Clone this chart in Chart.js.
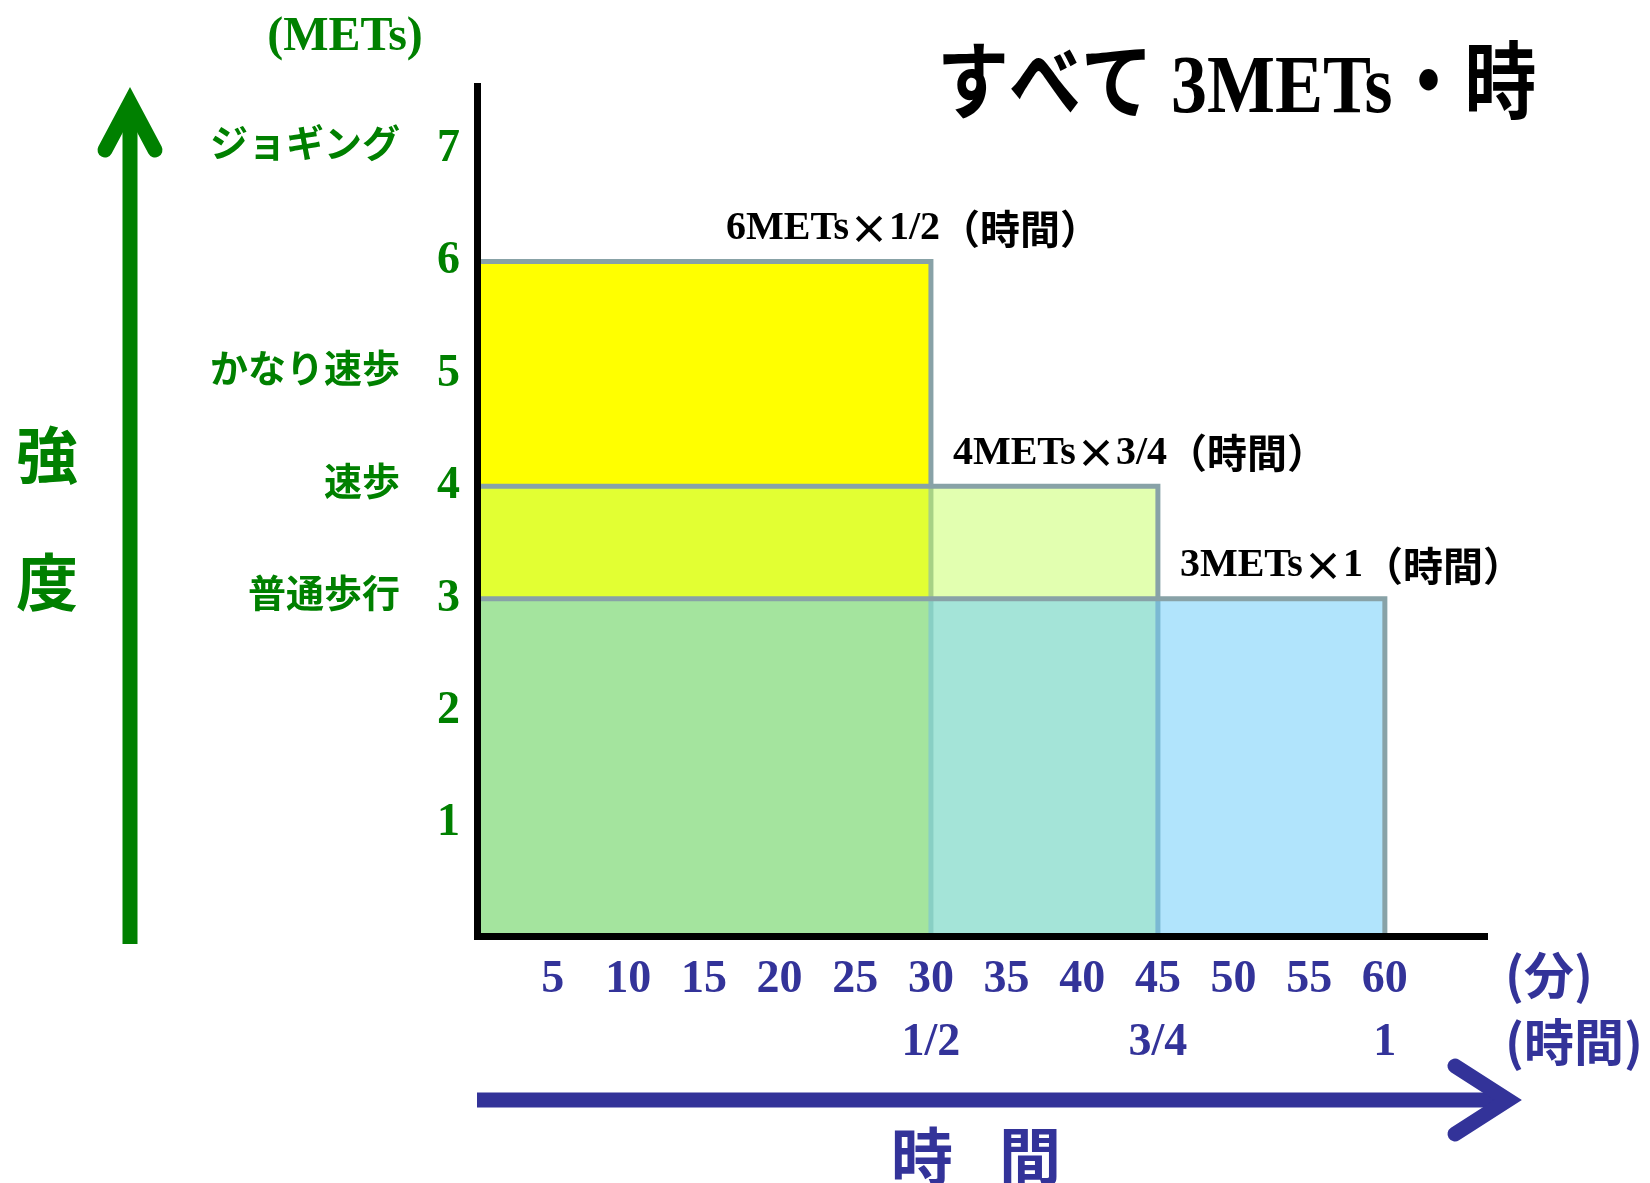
<!DOCTYPE html>
<html lang="ja">
<head>
<meta charset="utf-8">
<title>すべて 3METs・時</title>
<script src="https://cdn.jsdelivr.net/npm/chart.js@4.4.1/dist/chart.umd.min.js"></script>
<style>
  html, body { margin: 0; padding: 0; background: #fff; }
  #wrap { width: 1650px; height: 1183px; }
</style>
</head>
<body>
<div id="wrap"><canvas id="mets-chart"></canvas></div>
<script>
// three activities that all add up to 3 METs·hour (drawn back to front: 6, 4, 3)
const metsValues = [3, 4, 6];
const durationMinutes = [60, 45, 30];
const barLabels = ['3METs×1（時間）', '4METs×3/4（時間）', '6METs×1/2（時間）'];
const barColors = ['rgba(110, 206, 250, 0.54)', 'rgba(198, 255, 100, 0.51)', '#ffff00'];

const minuteTicks = [5, 10, 15, 20, 25, 30, 35, 40, 45, 50, 55, 60];
const hourTickMinutes = [30, 45, 60];
const hourTickLabels = ['1/2', '3/4', '1'];

const metsTicks = [1, 2, 3, 4, 5, 6, 7];
const activityMets = [7, 5, 4, 3];
const activityNames = ['ジョギング', 'かなり速歩', '速歩', '普通歩行'];

const GREEN = '#008000';
const BLUE = '#333399';
const SERIF = "'Liberation Serif', 'Noto Sans CJK JP'";
const SANS = "'Noto Sans CJK JP', 'Noto Sans'";

const drawArrow = (ctx, shaft, head, color) => {
  ctx.save();
  ctx.strokeStyle = color;
  ctx.lineWidth = 15;
  ctx.lineCap = 'butt';
  ctx.beginPath();
  ctx.moveTo(shaft[0], shaft[1]);
  ctx.lineTo(shaft[2], shaft[3]);
  ctx.stroke();
  ctx.lineCap = 'round';
  ctx.lineJoin = 'miter';
  ctx.beginPath();
  ctx.moveTo(head[0], head[1]);
  ctx.lineTo(head[2], head[3]);
  ctx.lineTo(head[4], head[5]);
  ctx.stroke();
  ctx.restore();
};

// latin runs in serif, everything else (×, brackets, kanji) in the CJK sans
const drawMixed = (ctx, text, x, y, size) => {
  let cx = x;
  text.match(/[0-9A-Za-z/ ]+|[^0-9A-Za-z/ ]+/g).forEach((run) => {
    const latin = /^[0-9A-Za-z/ ]/.test(run);
    ctx.font = latin ? `bold ${size}px 'Liberation Serif'` : `bold ${size}px ${SANS}`;
    ctx.fillText(run, cx, y);
    cx += ctx.measureText(run).width;
  });
};

const decorations = {
  id: 'decorations',
  afterDraw(chart) {
    const { ctx, chartArea, scales: { x, y } } = chart;
    ctx.save();

    // intensity arrow and label
    drawArrow(ctx, [130, 944, 130, 104], [105, 150, 130, 103, 155, 150], GREEN);
    ctx.fillStyle = GREEN;
    ctx.textAlign = 'center';
    ctx.textBaseline = 'middle';
    ctx.font = `bold 62px ${SANS}`;
    ctx.fillText('強', 47, 455);
    ctx.fillText('度', 47, 582);
    ctx.font = `bold 48px ${SERIF}`;
    ctx.fillText('(METs)', 345, 38);

    // activity names next to the METs ticks
    ctx.textAlign = 'right';
    ctx.font = `bold 38px ${SANS}`;
    activityNames.forEach((name, i) => {
      ctx.fillText(name, 400, y.getPixelForValue(activityMets[i]) - 6);
    });

    // time arrow and units
    const arrowY = 1100;
    drawArrow(ctx, [chartArea.left, arrowY, 1508, arrowY], [1455, 1066, 1508, arrowY, 1455, 1134], BLUE);
    ctx.fillStyle = BLUE;
    ctx.textAlign = 'left';
    ctx.font = `bold 50px ${SANS}`;
    ctx.fillText('(分)', 1505, 975);
    ctx.fillText('(時間)', 1505, 1042);
    ctx.textAlign = 'center';
    ctx.font = `bold 62px ${SANS}`;
    ctx.fillText('時', 922, 1156);
    ctx.fillText('間', 1030, 1156);

    // labels over each block
    ctx.fillStyle = '#000';
    ctx.textAlign = 'left';
    barLabels.forEach((label, i) => {
      const shorter = durationMinutes.filter((d) => d < durationMinutes[i]);
      const startMin = shorter.length ? Math.max(...shorter) : durationMinutes[i] / 2;
      drawMixed(ctx, label, x.getPixelForValue(startMin) + 22, y.getPixelForValue(metsValues[i]) - 33, 40);
    });

    // title, slightly stretched vertically
    ctx.translate(937, 90);
    ctx.scale(1, 1.16);
    ctx.font = `bold 72px ${SERIF}`;
    ctx.fillText('すべて 3METs・時', 0, 0);
    ctx.restore();
  },
};

const ctx = document.getElementById('mets-chart').getContext('2d');

new Chart(ctx, {
  type: 'line',
  data: {
    datasets: metsValues.map((mets, i) => ({
      label: barLabels[i],
      data: [
        { x: 0, y: mets },
        { x: durationMinutes[i], y: mets },
        { x: durationMinutes[i], y: 0 },
      ],
      fill: 'origin',
      backgroundColor: barColors[i],
      borderColor: '#88a2a7',
      borderWidth: 5,
      borderJoinStyle: 'miter',
      pointRadius: 0,
      tension: 0,
    })),
  },
  options: {
    responsive: true,
    maintainAspectRatio: false,
    animation: false,
    events: [],
    layout: {
      padding: { top: 86, right: 163, left: 0, bottom: 0 },
    },
    scales: {
      x: {
        type: 'linear',
        min: 0,
        max: 66.75,
        grid: { display: false, drawTicks: false },
        border: { color: '#000', width: 7, z: 1 },
        afterFit(scale) {
          scale.height = 247;
        },
        ticks: {
          stepSize: 5,
          padding: 13,
          color: BLUE,
          maxRotation: 0,
          autoSkip: false,
          font: { family: SERIF, size: 46, weight: 'bold', lineHeight: 1.37 },
          callback(value) {
            if (!minuteTicks.includes(value)) return '';
            const h = hourTickMinutes.indexOf(value);
            return [String(value), h >= 0 ? hourTickLabels[h] : ''];
          },
        },
      },
      y: {
        type: 'linear',
        min: 0,
        max: 7.56,
        grid: { display: false, drawTicks: false },
        border: { color: '#000', width: 7, z: 1 },
        afterFit(scale) {
          scale.width = 477;
        },
        ticks: {
          stepSize: 1,
          padding: 17,
          color: GREEN,
          autoSkip: false,
          font: { family: SERIF, size: 46, weight: 'bold' },
          callback(value) {
            return metsTicks.includes(value) ? String(value) : '';
          },
        },
      },
    },
    plugins: {
      legend: { display: false },
      tooltip: { enabled: false },
    },
  },
  plugins: [decorations],
});
</script>
</body>
</html>
